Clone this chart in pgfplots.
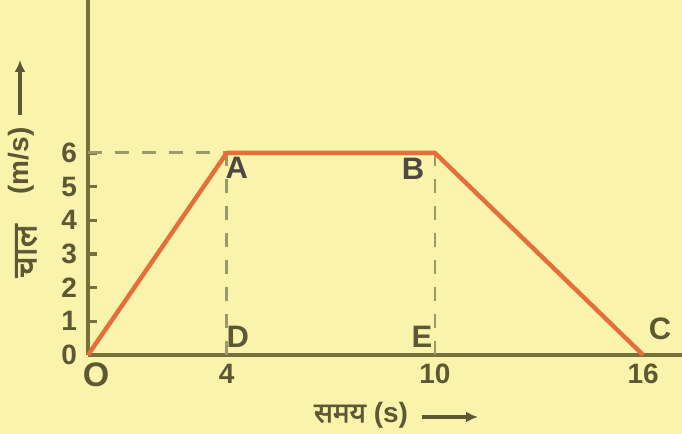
\documentclass[border=0pt]{standalone}
\usepackage{pgfplots}
\pgfplotsset{compat=1.18}
\usepackage{fontspec}
\setmainfont{Liberation Sans}
\newfontfamily\deva[Script=Devanagari, FakeBold=2.2]{Noto Sans}
\usetikzlibrary{arrows.meta}

\definecolor{paper}{RGB}{250,243,172}
\definecolor{ink}{RGB}{92,88,52}
\definecolor{axisink}{RGB}{118,112,60}
\definecolor{graph}{RGB}{230,110,58}
\definecolor{guide}{RGB}{155,152,105}
\definecolor{letter}{RGB}{78,72,66}

\begin{document}
\begin{tikzpicture}[x=1pt,y=1pt]
% paper background, also fixes the picture size
\path[use as bounding box, fill=paper] (0,0) rectangle (341,217);
\begin{axis}[
  at={(44pt,39.5pt)}, anchor=south west,
  scale only axis, width=297pt, height=177.5pt,
  xmin=0, xmax=17.12, ymin=0, ymax=10.54,
  axis lines=left,
  axis line style={-, axisink, line width=2pt},
  clip=false,
  xtick={4,10,16}, ytick={0,1,2,3,4,5,6},
  tick align=inside,
  x tick style={draw=none},
  y tick style={axisink, line width=1.6pt},
  major tick length=4.5pt,
  /pgf/number format/assume math mode=true,
  tick label style={font=\fontsize{14}{16}\selectfont\bfseries, text=ink},
  yticklabel style={xshift=-2pt},
  xticklabel style={yshift=-1pt},
]
% guide lines to the axes
\addplot[guide, line width=1.5pt, dash pattern=on 7pt off 6.5pt] coordinates {(0,6) (4,6)};
\addplot[guide, line width=1.4pt, dash pattern=on 7pt off 6.5pt] coordinates {(4,0) (4,6)};
\addplot[guide, line width=1.4pt, dash pattern=on 7pt off 6.5pt] coordinates {(10,0) (10,6)};
% speed-time graph
\addplot[graph, line width=2.2pt, line join=round] coordinates {(0,0) (4,6) (10,6) (16,0)};
% point names
\begin{scope}[every node/.style={font=\fontsize{15.5}{17}\selectfont\bfseries, inner sep=0pt}]
\node[text=letter, xshift=5pt, yshift=-7.5pt] at (axis cs:4,6) {A};
\node[text=letter, xshift=-11pt, yshift=-8pt] at (axis cs:10,6) {B};
\node[text=ink, xshift=5.5pt, yshift=9pt] at (axis cs:4,0) {D};
\node[text=ink, xshift=-6.5pt, yshift=9pt] at (axis cs:10,0) {E};
\node[text=ink, xshift=8.5pt, yshift=13pt] at (axis cs:16,0) {C};
\node[text=ink, xshift=4pt, yshift=-10pt, font=\fontsize{17}{19}\selectfont\bfseries] at (axis cs:0,0) {O};
\end{scope}
\end{axis}
% axis titles
\node[rotate=90, text=ink, inner sep=0pt, font=\fontsize{17}{19}\selectfont\deva] at (13,91.5) {चाल};
\node[rotate=90, text=ink, inner sep=0pt, font=\fontsize{14}{16}\selectfont\bfseries] at (10.5,136.5) {(m/s)};
\draw[ink, line width=1.6pt, -{Latex[length=6pt,width=5.5pt]}] (10,159.5) -- (10,187);
\node[text=ink, inner sep=0pt, font=\fontsize{14}{16}\selectfont\bfseries] at (180.5,9.5) {{\deva समय}\hspace{4pt}(s)};
\draw[ink, line width=1.6pt, -{Latex[length=6pt,width=5.5pt]}] (211,8.5) -- (239,8.5);
\end{tikzpicture}
\end{document}
